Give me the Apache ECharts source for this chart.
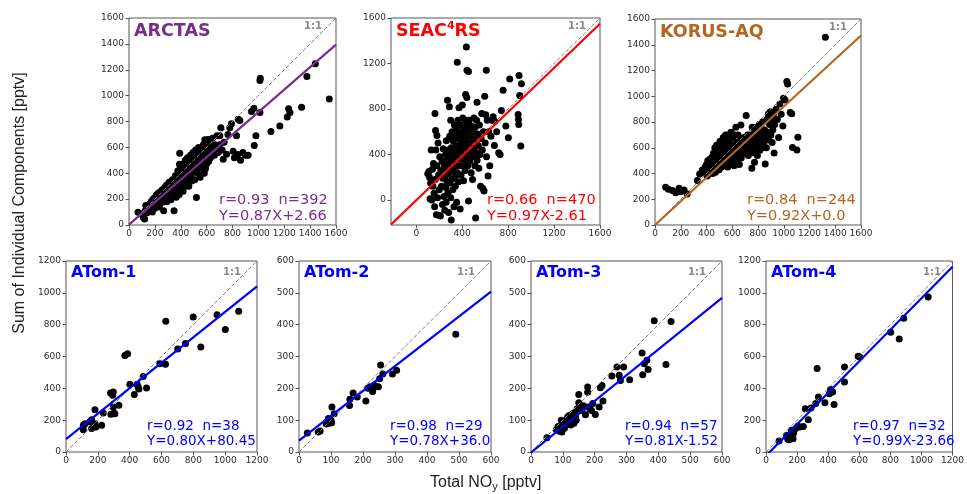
<!DOCTYPE html>
<html>
<head>
<meta charset="utf-8">
<script src="https://cdn.jsdelivr.net/npm/echarts@6/dist/echarts.min.js"></script>
<style>
  html, body { margin: 0; padding: 0; background: #fff; }
  #chart { width: 967px; height: 494px; }
</style>
</head>
<body>
<div id="chart"></div>
<script>
// ---- data (x = total NOy, y = sum of components, pptv) ----
const arctasPoints = [
  [70,98],[95,85],[110,60],[121,46],[125,110],[130,150],[140,95],[150,130],[155,160],[160,120],[170,140],[175,185],[180,100],[185,170],[190,205],[195,150],[200,130],[205,190],[210,230],[215,165],
  [220,210],[225,245],[230,180],[235,140],[240,255],[245,200],[250,230],[255,270],[260,175],[262,215],[268,111],[270,250],[275,290],[278,200],[280,235],[285,265],[290,310],[292,180],[295,245],[300,280],
  [305,215],[310,330],[312,260],[318,300],[320,240],[325,195],[330,280],[335,350],[338,225],[340,310],[345,270],[348,111],[350,330],[355,250],[358,380],[360,290],[365,215],[368,340],[370,300],[375,260],[378,420],[380,360],[385,325],[388,235],[390,470],[392,555],[395,400],[398,280],
  [402,340],[405,440],[410,310],[412,380],[418,260],[420,470],[425,350],[428,410],[432,300],[435,500],[440,380],[445,440],[448,330],[452,520],[455,400],[460,470],[462,300],[466,360],[470,430],[475,540],[478,380],[480,490],[485,340],[490,450],[495,560],[498,410],
  [505,470],[508,350],[512,520],[515,580],[518,430],[521,212],[525,490],[530,400],[535,550],[538,600],[540,460],[545,520],[550,370],[555,490],[560,580],[565,440],[570,540],[575,620],[578,480],[582,400],[585,560],[586,658],[590,510],[591,434],[595,600],[598,470],
  [605,540],[610,660],[615,490],[620,580],[625,620],[630,520],[640,560],[645,670],[650,600],[660,540],[665,620],[675,580],[680,690],[690,560],[700,620],[702,689],[710,751],[720,580],[728,508],[735,640],
  [754,547],[765,700],[779,751],[792,782],[805,570],[815,520],[830,530],[831,689],[840,545],[844,818],[857,808],[862,500],[880,560],[900,540],[921,539],[947,877],[965,903],[968,614],[981,689],
  [1012,870],[1012,1117],[1015,1135],[1097,723],[1166,766],[1223,834],[1234,898],[1244,870],[1334,911],[1375,1148],[1440,1246],[1548,973]
];
const seacPoints = [
  [100,230],[110,250],[115,200],[120,10],[125,150],[130,440],[135,0],[140,270],[145,120],[150,320],[155,60],[160,-60],[163,760],[165,180],[168,611],[170,440],[175,-130],[180,567],[180,300],[185,20],[190,500],[195,220],[198,-134],[200,90],
  [205,380],[210,-140],[215,260],[220,120],[225,340],[228,-40],[230,190],[235,450],[240,30],[245,300],[248,-90],[250,200],[255,400],[258,110],[260,-20],[262,520],[265,280],[268,160],[270,360],[272,877],[275,60],[278,440],[280,230],[282,-110],[285,320],[288,820],[290,150],[292,560],[295,380],[298,250],[300,700],[300,20],[305,-175],[305,460],
  [308,300],[310,180],[312,600],[315,400],[318,90],[320,520],[322,260],[325,340],[328,-60],[330,450],[332,660],[335,200],[338,560],[340,120],[342,380],[345,480],[348,300],[350,620],[352,-20],[355,420],[357,1210],[358,240],[360,540],[362,700],[365,360],[368,160],[370,470],[372,810],[375,580],[378,300],[380,420],[382,-80],[385,660],[388,520],[390,220],[392,380],[395,600],[398,460],
  [401,836],[402,300],[405,720],[408,540],[410,400],[412,170],[415,620],[418,480],[420,340],[422,560],[425,260],[428,700],[430,927],[432,440],[435,600],[436,1345],[438,380],[440,900],[442,1140],[442,520],[445,660],[448,300],[450,470],[452,580],[455,1130],[455,-10],[458,400],[460,700],[462,540],[465,340],[468,620],[470,460],[475,560],[478,240],[480,650],[485,420],[488,520],[490,180],[495,600],[498,380],
  [502,720],[505,470],[510,300],[512,640],[515,540],[517,-158],[520,420],[525,700],[529,860],[530,350],[535,580],[540,480],[545,280],[550,660],[555,400],[560,120],[565,540],[570,760],[575,440],[580,100],[585,600],[590,80],[596,912],[600,500],[605,750],[610,1140],[612,380],[618,700],[625,210],[630,600],[640,300],[650,560],
  [660,700],[669,731],[680,480],[683,693],[700,600],[718,415],[730,400],[741,786],[756,965],[780,650],[802,547],[814,1064],[887,751],[890,707],[892,664],[895,1094],[901,918],[910,474],[916,1023]
];
const korusPoints = [
  [83,293],[104,277],[135,267],[161,251],[187,285],[200,259],[226,272],[250,240],[329,345],[347,396],[368,427],
  [380,410],[390,450],[400,470],[405,380],[410,500],[415,440],[420,400],[425,510],[430,460],[435,420],[440,490],[445,530],[448,400],[450,470],[455,560],[458,440],[460,520],[465,600],[468,480],[470,410],[475,550],[478,620],[480,500],[485,460],[488,580],[490,540],[495,610],[498,430],
  [500,520],[505,650],[508,480],[510,570],[515,600],[518,450],[520,540],[525,640],[528,510],[530,680],[535,580],[538,470],[540,620],[545,530],[548,700],[550,600],[555,490],[558,650],[560,560],[565,450],[568,620],[570,700],[575,530],[578,600],[580,660],[585,480],[588,560],[590,720],[595,620],[598,500],
  [600,580],[605,680],[608,540],[610,620],[615,460],[618,700],[620,560],[625,600],[628,760],[630,510],[635,640],[640,580],[645,700],[648,540],[650,620],[655,470],[660,580],[665,660],[667,777],[670,520],[675,600],[680,640],[685,560],[690,680],[695,620],
  [700,560],[708,850],[710,640],[715,600],[720,700],[725,540],[730,660],[735,620],[740,700],[745,580],[750,640],[752,440],[755,760],[760,600],[765,680],[770,560],[773,487],[775,720],[780,640],[785,600],[790,760],[795,540],
  [800,680],[805,620],[810,780],[815,580],[820,720],[825,660],[830,600],[835,800],[840,700],[845,640],[850,740],[856,474],[860,680],[865,600],[870,820],[875,720],[880,860],[885,660],[890,780],[895,880],
  [900,700],[905,820],[910,640],[915,740],[920,860],[925,560],[930,780],[940,900],[950,820],[960,680],[970,940],[980,860],[993,769],[998,984],[1010,970],[1024,1114],[1030,1095],[1050,873],[1062,865],[1068,601],[1102,583],[1110,681],[1323,1458]
];
const atom1Points = [
  [109,140],[109,168],[119,178],[150,190],[161,147],[161,203],[182,178],[182,266],[188,157],[224,168],[234,245],[282,237],[301,245],[280,371],[297,377],[293,356],[297,283],[307,241],[332,293],
  [370,607],[387,618],[401,425],[429,362],[447,425],[454,408],[458,396],[485,475],[506,402],[590,555],[625,551],[627,821],[702,647],[751,681],[799,848],[847,660],[949,863],[1001,769],[1085,884]
];
const atom2Points = [
  [26,60],[60,63],[66,66],[85,88],[88,95],[92,105],[95,90],[98,95],[100,100],[102,92],[103,141],[110,120],[158,146],[159,166],[169,185],
  [182,173],[209,160],[215,200],[222,205],[230,190],[235,210],[240,205],[248,205],[252,230],[255,273],[262,245],[292,245],[305,257],[490,370]
];
const atom3Points = [
  [50,45],[80,70],[85,80],[90,65],[95,100],[97,63],[100,90],[105,75],[105,95],[110,85],[110,100],[115,110],[118,100],[120,115],[120,90],[125,105],[125,85],[128,95],[130,120],[132,110],
  [135,90],[138,125],[140,110],[142,100],[145,135],[150,155],[150,181],[150,140],[155,140],[160,130],[165,145],[171,117],[178,204],[178,188],[181,141],[185,135],[194,152],[202,118],[214,141],
  [218,202],[223,209],[226,160],[254,239],[270,267],[277,241],[281,225],[291,267],[310,227],[349,311],[351,243],[356,277],[364,288],[368,259],[387,412],[424,275],[440,410],[190,130]
];
const atom4Points = [
  [84,69],[132,105],[140,80],[149,77],[153,94],[163,136],[168,115],[174,84],[178,119],[191,147],[205,163],[216,157],[240,160],[253,272],[272,203],[289,276],
  [320,304],[329,524],[337,346],[379,310],[408,366],[415,392],[429,377],[438,299],[505,534],[505,440],[593,601],[603,597],[802,752],[857,710],[886,840],[1043,974]
];

const panelPoints = [arctasPoints, seacPoints, korusPoints, atom1Points, atom2Points, atom3Points, atom4Points];
const panelNames = ['ARCTAS', 'SEAC{sup|4}RS', 'KORUS-AQ', 'ATom-1', 'ATom-2', 'ATom-3', 'ATom-4'];
const panelColors = ['#7b2d8e', '#ff0000', '#b5651d', '#0000ff', '#0000ff', '#0000ff', '#0000ff'];
const statR = ['0.93', '0.66', '0.84', '0.92', '0.98', '0.94', '0.97'];
const statN = [392, 470, 244, 38, 29, 57, 32];
const fitSlope = [0.87, 0.97, 0.92, 0.80, 0.78, 0.81, 0.99];
const fitIntercept = [2.66, -2.61, 0.0, 80.45, 36.0, -1.52, -23.66];
const fitLabels = ['Y=0.87X+2.66', 'Y=0.97X-2.61', 'Y=0.92X+0.0', 'Y=0.80X+80.45', 'Y=0.78X+36.0', 'Y=0.81X-1.52', 'Y=0.99X-23.66'];
const axisMin = [0, -220, 0, 0, 0, 0, 0];
const axisMax = [1600, 1600, 1600, 1200, 600, 600, 1200];
const tickStep = [200, 400, 200, 200, 100, 100, 200];
const seacTicks = [0, 400, 800, 1200, 1600];

// ---- layout: [left, top, width, height] of each plot box ----
const boxes = [
  [129, 18, 207, 207], [391, 18, 209, 207], [655, 19, 206, 206],
  [66, 261, 191, 191], [299, 261, 192, 191], [531, 261, 191, 191], [766, 261, 191, 191]
];
const statsX = [219, 487, 747, 147, 390, 625, 853];

const tickFont = { fontFamily: 'DejaVu Sans', fontSize: 9, color: '#2b2b2b' };

let grids = [], xAxes = [], yAxes = [], series = [], titles = [];

boxes.forEach(function (b, i) {
  const top = i < 3;
  grids.push({
    left: b[0], top: b[1], width: b[2], height: b[3],
    show: true, borderColor: '#555', borderWidth: 1, containLabel: false
  });
  const custom = i === 1;
  function makeAxis(isX) {
    let ax = {
      type: 'value', gridIndex: i, min: axisMin[i], max: axisMax[i],
      axisLine: { show: false, onZero: false },
      axisTick: { show: true, length: 3.5, lineStyle: { color: '#555' } },
      axisLabel: Object.assign({ margin: isX ? 4 : 5, formatter: function (v) { return String(v); } }, tickFont),
      splitLine: { show: false }
    };
    if (custom) {
      ax.axisLabel.customValues = seacTicks;
      ax.axisTick.customValues = seacTicks;
    } else {
      ax.interval = tickStep[i];
    }
    return ax;
  }
  xAxes.push(makeAxis(true));
  yAxes.push(makeAxis(false));

  const lo = axisMin[i], hi = axisMax[i];
  series.push({
    type: 'scatter', xAxisIndex: i, yAxisIndex: i,
    symbolSize: 7, itemStyle: { color: '#000', opacity: 1 },
    data: panelPoints[i], z: 2
  });
  series.push({
    type: 'line', xAxisIndex: i, yAxisIndex: i, symbol: 'none', clip: true,
    lineStyle: { color: '#808080', width: 1, type: [4, 2] },
    data: [[lo, lo], [hi, hi]], z: 3
  });
  series.push({
    type: 'line', xAxisIndex: i, yAxisIndex: i, symbol: 'none', clip: true,
    lineStyle: { color: panelColors[i], width: 2.2 },
    data: [[lo, fitSlope[i] * lo + fitIntercept[i]], [hi, fitSlope[i] * hi + fitIntercept[i]]], z: 4
  });

  // panel name
  const nameSize = top ? 17.5 : 16;
  titles.push({
    text: panelNames[i], left: b[0] + 5, top: b[1] + (top ? 3 : 2.5), padding: 0,
    textStyle: {
      fontFamily: 'DejaVu Sans', fontWeight: 'bold', fontSize: nameSize, color: panelColors[i],
      lineHeight: nameSize * 1.2,
      rich: { sup: { fontFamily: 'DejaVu Sans', fontWeight: 'bold', fontSize: 11, color: panelColors[i], verticalAlign: 'top', lineHeight: 13 } }
    }
  });
  // 1:1 label
  titles.push({
    text: '1:1', left: b[0] + b[2] - (top ? 32 : 34), top: b[1] + (top ? 2.5 : 5), padding: 0,
    textStyle: { fontFamily: 'DejaVu Sans', fontWeight: 'bold', fontSize: 10, color: '#888', lineHeight: 12 }
  });
  // stats
  const statSize = top ? 14.5 : 13.5;
  const lh = top ? 16 : 15.5;
  titles.push({
    text: 'r=' + statR[i] + '  n=' + statN[i] + '\n' + fitLabels[i],
    left: statsX[i], top: top ? 192 : 418.5, padding: 0,
    textStyle: { fontFamily: 'DejaVu Sans', fontWeight: 'normal', fontSize: statSize, color: panelColors[i], lineHeight: lh }
  });
});

// shared axis names
titles.push({
  text: 'Total NO{sub|y} [pptv]', left: 430, top: 473, padding: 0,
  textStyle: {
    fontFamily: 'Liberation Sans', fontWeight: 'normal', fontSize: 16, color: '#222', lineHeight: 19,
    rich: { sub: { fontFamily: 'Liberation Sans', fontSize: 11, color: '#222', verticalAlign: 'bottom', lineHeight: 14 } }
  }
});

const chart = echarts.init(document.getElementById('chart'), null, { renderer: 'canvas' });
chart.setOption({
  animation: false,
  backgroundColor: '#fff',
  title: titles,
  grid: grids,
  xAxis: xAxes,
  yAxis: yAxes,
  series: series,
  graphic: [{
    type: 'text', x: 20, y: 203, rotation: Math.PI / 2,
    style: {
      text: 'Sum of Individual Components [pptv]', fill: '#222',
      font: '16px "Liberation Sans"', align: 'center', verticalAlign: 'middle'
    }
  }]
});
</script>
</body>
</html>
